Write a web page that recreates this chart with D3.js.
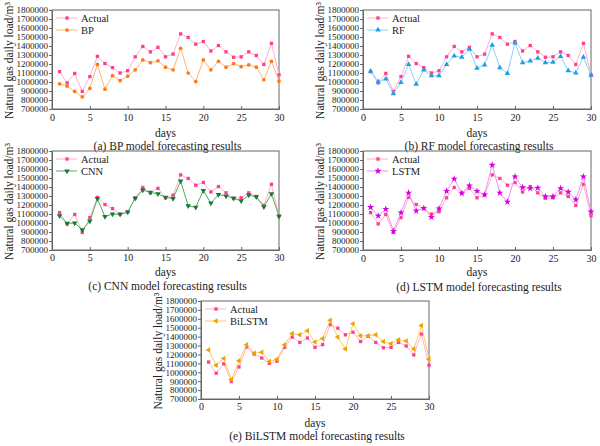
<!DOCTYPE html>
<html>
<head>
<meta charset="utf-8">
<script src="https://cdn.jsdelivr.net/npm/d3@7"></script>
<style>
  html, body { margin: 0; padding: 0; background: #fff; }
  svg { display: block; }
  text { font-family: "Liberation Serif", "Times New Roman", serif; fill: #222; }
</style>
</head>
<body>
<svg id="chart" width="600" height="446"></svg>
<script>
const days = d3.range(1, 31);
const yTicks = [700000, 800000, 900000, 1000000, 1100000, 1200000, 1300000, 1400000, 1500000, 1600000, 1700000, 1800000];
const xTicks = [0, 5, 10, 15, 20, 25, 30];

const actual = [1115000, 990000, 1095000, 895000, 1060000, 1285000, 1205000, 1160000, 1100000, 1125000,
  1280000, 1395000, 1335000, 1385000, 1280000, 1310000, 1535000, 1495000, 1420000, 1450000,
  1345000, 1405000, 1335000, 1275000, 1280000, 1335000, 1295000, 1195000, 1430000, 1080000];
const bp = [980000, 955000, 895000, 835000, 930000, 1195000, 920000, 1070000, 1015000, 1065000,
  1135000, 1245000, 1215000, 1235000, 1165000, 1135000, 1375000, 1100000, 1005000, 1245000,
  1135000, 1230000, 1165000, 1205000, 1170000, 1190000, 1165000, 1025000, 1230000, 1010000];
const rf = [1120000, 1005000, 1035000, 870000, 995000, 1195000, 975000, 1135000, 1070000, 1070000,
  1195000, 1290000, 1275000, 1365000, 1155000, 1190000, 1410000, 1160000, 1095000, 1435000,
  1215000, 1235000, 1265000, 1215000, 1220000, 1285000, 1125000, 1100000, 1275000, 1075000];
const cnn = [1080000, 995000, 1000000, 925000, 1020000, 1270000, 1070000, 1100000, 1095000, 1120000,
  1275000, 1365000, 1340000, 1325000, 1285000, 1270000, 1465000, 1190000, 1175000, 1360000,
  1220000, 1315000, 1300000, 1275000, 1245000, 1310000, 1290000, 1180000, 1325000, 1075000];
const lstm = [1175000, 1080000, 1155000, 910000, 1115000, 1335000, 1135000, 1165000, 1065000, 1160000,
  1355000, 1490000, 1330000, 1415000, 1355000, 1315000, 1645000, 1335000, 1235000, 1515000,
  1395000, 1385000, 1390000, 1295000, 1295000, 1385000, 1345000, 1260000, 1515000, 1125000];
const bilstm = [1250000, 1080000, 1155000, 920000, 1130000, 1310000, 1215000, 1225000, 1120000, 1145000,
  1310000, 1435000, 1420000, 1465000, 1340000, 1380000, 1585000, 1395000, 1260000, 1545000,
  1410000, 1410000, 1420000, 1345000, 1320000, 1365000, 1350000, 1260000, 1525000, 1150000];

const modelNames = ["BP", "RF", "CNN", "LSTM", "BiLSTM"];
const captions = ["(a) BP model forecasting results", "(b) RF model forecasting results",
  "(c) CNN model forecasting results", "(d) LSTM model forecasting results",
  "(e) BiLSTM model forecasting results"];

const svg = d3.select("#chart");

const actualStyle = { marker: "#ff3f8e", line: "#ffb0d0", symbol: d3.symbolSquare, size: 11, rot: 0 };
const styles = [
  { marker: "#ff7a12", line: "#ffb47a", symbol: d3.symbolCircle, size: 11, rot: 0 },
  { marker: "#1c9fe6", line: "#86d2fb", symbol: d3.symbolTriangle, size: 13, rot: 0 },
  { marker: "#157a32", line: "#52ad5c", symbol: d3.symbolTriangle, size: 13, rot: 180 },
  { marker: "#d400e0", line: "#f290f4", symbol: d3.symbolStar, size: 16, rot: 0 },
  { marker: "#eea300", line: "#ffcf5e", symbol: d3.symbolTriangle, size: 13, rot: -90 }
];
const seriesData = [bp, rf, cnn, lstm, bilstm];

const panels = [
  { l: 52, r: 279, t: 10, b: 109, lab: 8, days: 24, cap: 37 },
  { l: 363, r: 591, t: 10, b: 109, lab: 8, days: 24, cap: 37 },
  { l: 52, r: 279, t: 151, b: 250, lab: 7, days: 22, cap: 36 },
  { l: 363, r: 591, t: 151, b: 250, lab: 8, days: 22, cap: 37 },
  { l: 201, r: 429, t: 301, b: 399, lab: 7, days: 24, cap: 37 }
];

panels.forEach((p, i) => {
  const g = svg.append("g");
  const x = d3.scaleLinear().domain([0, 30]).range([p.l, p.r]);
  const y = d3.scaleLinear().domain([700000, 1800000]).range([p.b, p.t]);

  // frame
  g.append("rect").attr("x", p.l).attr("y", p.t).attr("width", p.r - p.l).attr("height", p.b - p.t)
    .attr("fill", "none").attr("stroke", "#666").attr("stroke-width", 1);

  // y axis
  const ya = g.append("g").attr("transform", `translate(${p.l},0)`)
    .call(d3.axisLeft(y).tickValues(yTicks).tickFormat(d3.format("d")).tickSize(3).tickPadding(1));
  ya.select(".domain").attr("stroke", "#666");
  ya.selectAll(".tick line").attr("stroke", "#666");
  ya.selectAll("text").style("font-size", "9px").attr("fill", "#222");

  // x axis
  const xa = g.append("g").attr("transform", `translate(0,${p.b})`)
    .call(d3.axisBottom(x).tickValues(xTicks).tickSize(-3).tickPadding(0));
  xa.select(".domain").attr("stroke", "#666");
  xa.selectAll(".tick line").attr("stroke", "#666");
  xa.selectAll("text").style("font-size", "10px").attr("fill", "#222")
    .attr("y", p.lab + 3.5).attr("dy", null);

  // axis titles
  const cx = (p.l + p.r) / 2;
  g.append("text").attr("x", cx).attr("y", p.b + p.days + 4).attr("text-anchor", "middle")
    .style("font-size", "11.5px").text("days");
  g.append("text").attr("x", cx + 2).attr("y", p.b + p.cap + 4).attr("text-anchor", "middle")
    .style("font-size", "11.5px").text(captions[i]);
  g.append("text")
    .attr("transform", `translate(${p.l - 39},${(p.t + p.b) / 2 + 1}) rotate(-90)`)
    .attr("text-anchor", "middle").style("font-size", "11.5px")
    .text("Natural gas daily load/m³");

  // series
  const line = d3.line().x((d, k) => x(days[k])).y(d => y(d));
  const drawSeries = (vals, st) => {
    g.append("path").datum(vals).attr("d", line).attr("fill", "none")
      .attr("stroke", st.line).attr("stroke-width", 1);
    g.selectAll(null).data(vals).enter().append("path")
      .attr("d", d3.symbol().type(st.symbol).size(st.size))
      .attr("transform", (d, k) => `translate(${x(days[k])},${y(d)}) rotate(${st.rot})`)
      .attr("fill", st.marker);
  };
  drawSeries(actual, actualStyle);
  drawSeries(seriesData[i], styles[i]);

  // legend
  const legItems = [["Actual", actualStyle], [modelNames[i], styles[i]]];
  legItems.forEach(([name, st], k) => {
    const ly = p.t + 8 + k * 12;
    g.append("line").attr("x1", p.l + 4).attr("x2", p.l + 25).attr("y1", ly).attr("y2", ly)
      .attr("stroke", st.line).attr("stroke-width", 1);
    g.append("path").attr("d", d3.symbol().type(st.symbol).size(st.size))
      .attr("transform", `translate(${p.l + 15},${ly}) rotate(${st.rot})`).attr("fill", st.marker);
    g.append("text").attr("x", p.l + 29).attr("y", ly + 3.5).style("font-size", "10.5px").text(name);
  });
});
</script>
</body>
</html>
